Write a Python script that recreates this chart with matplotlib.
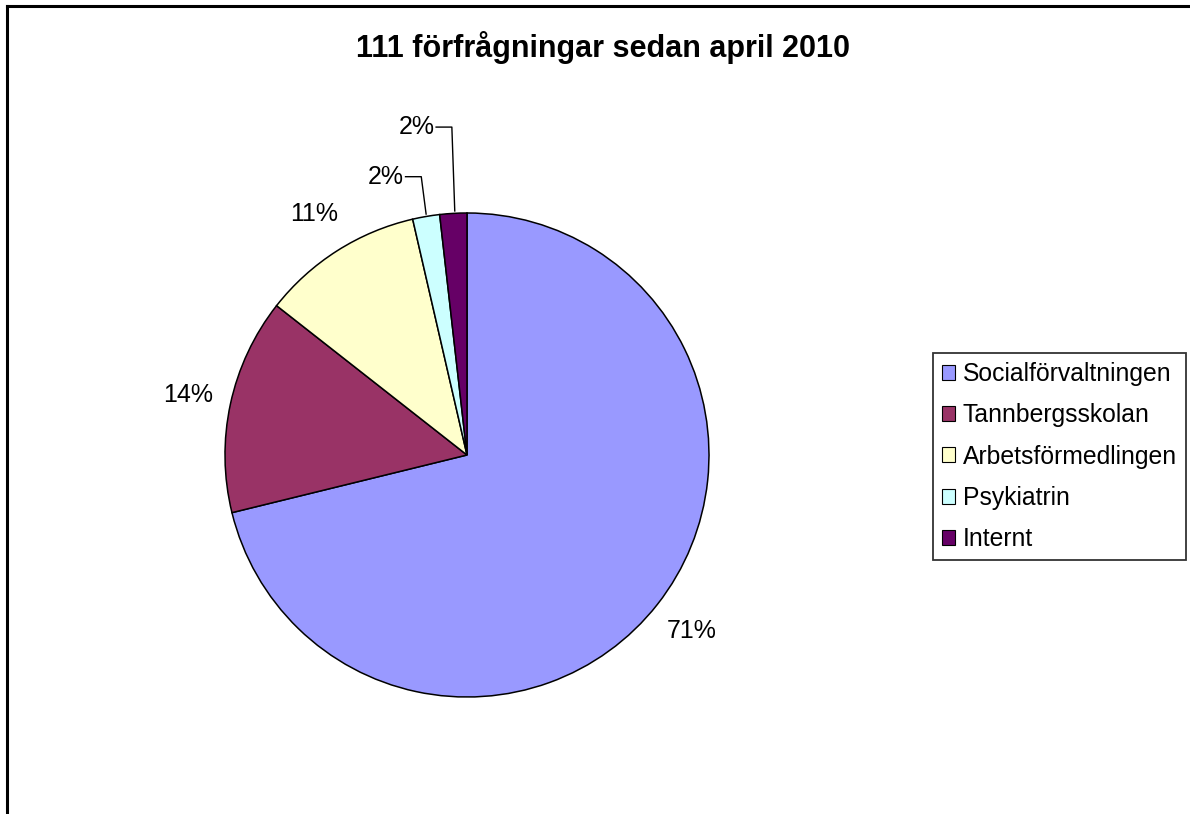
import matplotlib.pyplot as plt
from matplotlib.lines import Line2D
import numpy as np

plt.rcParams['font.family'] = ['Liberation Sans', 'DejaVu Sans']

# data
kategorier = ["Socialförvaltningen", "Tannbergsskolan", "Arbetsförmedlingen", "Psykiatrin", "Internt"]
antal = [79, 16, 12, 2, 2]
farger = ["#9999FF", "#993366", "#FFFFCC", "#CCFFFF", "#660066"]
titel = "111 förfrågningar sedan april 2010"

W, H = 1190, 814
fig = plt.figure(figsize=(W / 100, H / 100), dpi=100)

# pie axes: centre (467,455) px, radius 242 px
cx, cy, r = 467, 455, 242
ax = fig.add_axes([(cx - r) / W, (H - cy - r) / H, 2 * r / W, 2 * r / H])
wedges, _ = ax.pie(antal, colors=farger, startangle=90, counterclock=False,
                   radius=1.0, wedgeprops=dict(edgecolor="black", linewidth=1.1))
ax.set_xlim(-1, 1)
ax.set_ylim(-1, 1)
ax.set_aspect("equal")
ax.axis("off")

tot = sum(antal)
procent = ["%d%%" % round(100 * v / tot) for v in antal]
mitt = []
for w in wedges:
    mitt.append(np.deg2rad((w.theta1 + w.theta2) / 2))

# large slices: label outside
for i in range(3):
    a = mitt[i]
    ax.text(1.18 * np.cos(a), 1.18 * np.sin(a), procent[i], ha="center", va="center",
            fontsize=18, clip_on=False)

# small slices: leader lines (start offset, corner offset, height)
ledare = {3: (0.0, -0.02, 1.15), 4: (0.006, -0.006, 1.355)}
for i, (ds, dk, y1) in ledare.items():
    a = mitt[i]
    x0, y0 = np.cos(a), np.sin(a)
    xk = x0 + dk
    ax.plot([x0 + ds, xk, xk - 0.065], [y0 + 0.01, y1, y1], color="black", lw=1.0,
            clip_on=False)
    ax.text(xk - 0.072, y1, procent[i], ha="right", va="center", fontsize=18, clip_on=False)

fig.text(603 / W, 1 - 47 / H, titel, ha="center", va="center", fontsize=22, fontweight="bold")

leg = fig.legend(wedges, kategorier, loc="upper left", bbox_to_anchor=(933 / W, 1 - 353 / H),
                 fontsize=17.8, frameon=True, fancybox=False, shadow=False,
                 handlelength=0.55, handleheight=0.55, handletextpad=0.3,
                 labelspacing=0.7, borderpad=0.36, borderaxespad=0)
leg.get_frame().set_edgecolor("black")
leg.get_frame().set_linewidth(1.3)
for h in leg.legend_handles:
    h.set_linewidth(0.8)

# chart frame (top + left visible)
fig.add_artist(Line2D([7 / W, 1.0], [1 - 6 / H, 1 - 6 / H], transform=fig.transFigure,
                      color="black", lw=2.2))
fig.add_artist(Line2D([7 / W, 7 / W], [1 - 6 / H, 0.0], transform=fig.transFigure,
                      color="black", lw=2.2))

fig.savefig("out.png", dpi=100)
